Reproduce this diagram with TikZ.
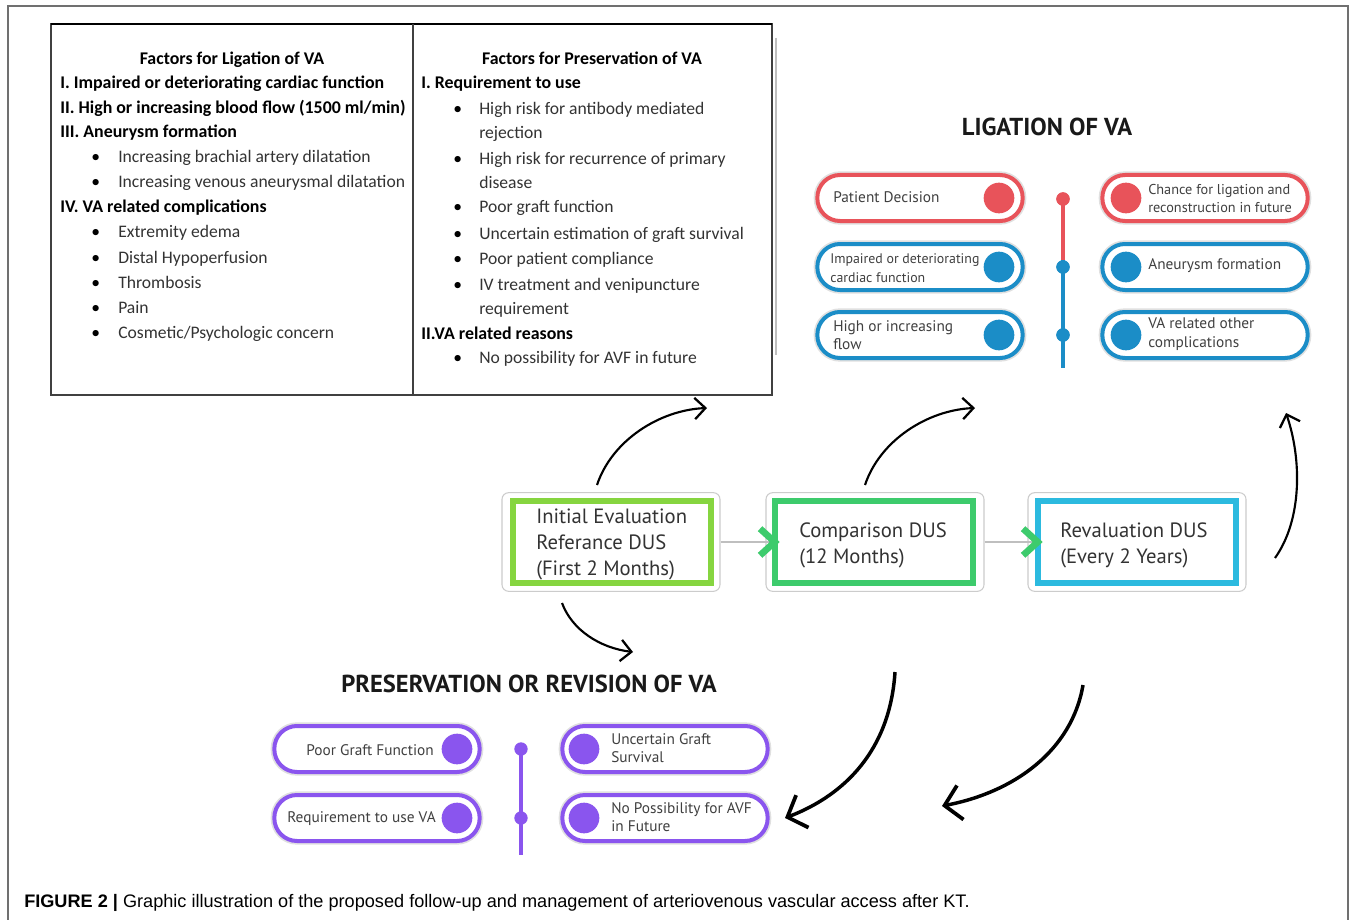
\documentclass[tikz,border=0pt]{standalone}
\usepackage{fontspec}
\setmainfont{Carlito}
\newfontfamily\pillfont{PT Sans}
\newfontfamily\capfont{Liberation Sans}
\usetikzlibrary{arrows.meta}

\definecolor{ligred}{HTML}{E8535A}
\definecolor{ligblue}{HTML}{1B8DC7}
\definecolor{prepurple}{HTML}{8A55EE}
\definecolor{boxlime}{HTML}{86D540}
\definecolor{boxgreen}{HTML}{3DCB6C}
\definecolor{boxcyan}{HTML}{2CBADF}
\definecolor{framegray}{HTML}{707070}

\tikzset{
  tabhead/.style={font=\bfseries\fontsize{13.4}{15}\selectfont, anchor=base, inner sep=0pt},
  tabbold/.style={font=\bfseries\fontsize{13.4}{15}\selectfont, anchor=base west, inner sep=0pt},
  tabitem/.style={font=\fontsize{13.2}{15}\selectfont, anchor=base west, inner sep=0pt, text=black!80},
  pill/.style={draw=#1, line width=3pt, rounded corners=17pt, minimum width=154pt, minimum height=34.5pt, fill=white,
    preaction={draw=black!12, line width=5.5pt}},
  dot/.style={circle, fill=#1, minimum size=23pt, inner sep=0pt},
  knob/.style={circle, fill=#1, minimum size=10pt, inner sep=0pt},
  pilltext/.style={font=\pillfont\fontsize{11.5}{14}\selectfont, text=black!75, align=left, inner sep=0pt},
  smalltext/.style={font=\pillfont\fontsize{10.7}{13.5}\selectfont, text=black!75, align=left, inner sep=0pt},
  heading/.style={font=\pillfont\bfseries\fontsize{18.4}{20}\selectfont, text=black!90, inner sep=0pt},
  flowframe/.style={draw=black!20, line width=0.8pt, rounded corners=5pt, minimum width=163.5pt, minimum height=74pt},
  flowbox/.style={draw=#1, line width=4.5pt, fill=white, minimum width=149pt, minimum height=62pt},
  flowtext/.style={font=\pillfont\fontsize{15.5}{19.5}\selectfont, text=black!80, align=left, anchor=west, inner sep=0pt},
  flowline/.style={draw=black!25, line width=0.8pt, -{Straight Barb[color=boxgreen, length=11pt, width=20pt, line width=5pt]}},
  curvy/.style={line width=1.6pt, -{Straight Barb[length=8pt, width=16pt, line width=1.7pt]}},
  bigcurvy/.style={line width=2.6pt, -{Straight Barb[length=12pt, width=26pt, line width=2.8pt]}}
}

\begin{document}
\begin{tikzpicture}[x=0.75pt, y=-0.75pt]
  \useasboundingbox (0,0) rectangle (1356,920);
  \fill[white] (0,0) rectangle (1356,920);
  % outer frame
  \draw[framegray, line width=1.1pt] (8,920) -- (8,6) -- (1348,6) -- (1348,920);

  % table
  \draw[black!75, line width=1pt] (51,24) rectangle (772,395);
  \draw[line width=2.2pt] (51,24) -- (772,24);
  \draw[black!75, line width=1pt] (413,24) -- (413,395);
  \draw[black!25, line width=1pt] (776,38) -- (776,355);

  \node[tabhead] (lhead) at (232,65) {Factors for Ligation of VA};
  \foreach \y/\t in {89/{I. Impaired or deteriorating cardiac function},
                     114/{II. High or increasing blood flow (1500 ml/min)},
                     138/{III. Aneurysm formation},
                     213/{IV. VA related complications}}
    \node[tabbold] (lt\y) at (60,\y) {\t};
  \foreach \y/\t in {163/{Increasing brachial artery dilatation},
                     188/{Increasing venous aneurysmal dilatation},
                     238/{Extremity edema},
                     263/{Distal Hypoperfusion},
                     288/{Thrombosis},
                     313/{Pain},
                     338/{Cosmetic/Psychologic concern}}
  {
    \node[tabitem, text=black] (lbul\y) at (91,\y) {\textbullet};
    \node[tabitem] (li\y) at (118,\y) {\t};
  }

  \node[tabhead] (rhead) at (592,65) {Factors for Preservation of VA};
  \node[tabbold] (rt89) at (421,89) {I. Requirement to use};
  \node[tabbold] (rt339) at (421,339) {II.VA related reasons};
  \foreach \y in {115,165,213,239,264,290,363}
    \node[tabitem, text=black] (rbul\y) at (453,\y) {\textbullet};
  \foreach \y/\t in {115/{High risk for antibody mediated},
                     139/{rejection},
                     165/{High risk for recurrence of primary},
                     189/{disease},
                     213/{Poor graft function},
                     239/{Uncertain estimation of graft survival},
                     264/{Poor patient compliance},
                     290/{IV treatment and venipuncture},
                     314/{requirement},
                     363/{No possibility for AVF in future}}
    \node[tabitem] (ri\y) at (479,\y) {\t};

  % ligation of VA
  \node[heading] (lighead) at (1047,127) {LIGATION OF VA};
  \node[knob=ligred] (k1) at (1063,199) {};
  \node[knob=ligblue] (k2) at (1063,267) {};
  \node[knob=ligblue] (k3) at (1063,335) {};
  \coordinate (kend) at (1063,368);
  \draw[ligred, line width=3pt] (k1.center) -- (k2.north);
  \draw[ligblue, line width=3pt] (k2.north) -- (kend);
  \node[knob=ligred] at (k1) {};
  \node[knob=ligblue] at (k2) {};
  \node[knob=ligblue] at (k3) {};

  \node[pill=ligred] (lp1) at (920,198) {};
  \node[pill=ligblue] (lp2) at (920,267) {};
  \node[pill=ligblue] (lp3) at (920,335) {};
  \node[pill=ligred] (rp1) at (1205,198) {};
  \node[pill=ligblue] (rp2) at (1205,267) {};
  \node[pill=ligblue] (rp3) at (1205,335) {};
  \node[dot=ligred] (ld1) at (999,198) {};
  \node[dot=ligblue] (ld2) at (999,267) {};
  \node[dot=ligblue] (ld3) at (999,335) {};
  \node[dot=ligred] (rd1) at (1126,198) {};
  \node[dot=ligblue] (rd2) at (1126,267) {};
  \node[dot=ligblue] (rd3) at (1126,335) {};

  \node[pilltext, anchor=west] (lx1) at (833,197) {Patient Decision};
  \node[smalltext, anchor=west, font=\pillfont\fontsize{10.4}{14}\selectfont] (lx2) at (830,268) {Impaired or deteriorating\\cardiac function};
  \node[pilltext, anchor=west] (lx3) at (833,335) {High or increasing\\flow};
  \node[smalltext, anchor=west] (rx1) at (1148,199) {Chance for ligation and\\reconstruction in future};
  \node[pilltext, anchor=west] (rx2) at (1148,266) {Aneurysm formation};
  \node[pilltext, anchor=west] (rx3) at (1148,334) {VA related other\\complications};

  % flow of follow-up
  \node[flowframe] (b1f) at (611,542) {};
  \node[flowframe] (b2f) at (875,542) {};
  \node[flowframe] (b3f) at (1137,542) {};
  \node[flowbox=boxlime] (b1) at (612,542) {};
  \node[flowbox=boxgreen] (b2) at (874,542) {};
  \node[flowbox=boxcyan] (b3) at (1137,542) {};
  \node[flowtext] (b1t) at (536,544) {Initial Evaluation\\Referance DUS\\(First 2 Months)};
  \node[flowtext] (b2t) at (799,545) {Comparison DUS\\(12 Months)};
  \node[flowtext] (b3t) at (1060,545) {Revaluation DUS\\(Every 2 Years)};
  \draw[flowline] (b1f.east) -- ([xshift=6pt]b2.west);
  \draw[flowline] (b2f.east) -- ([xshift=6pt]b3.west);

  % preservation or revision of VA
  \node[heading] (prehead) at (529,684) {PRESERVATION OR REVISION OF VA};
  \node[knob=prepurple] (p1) at (521,749) {};
  \node[knob=prepurple] (p2) at (521,818) {};
  \coordinate (pend) at (521,855);
  \draw[prepurple, line width=3pt] (p1.center) -- (pend);
  \node[pill=prepurple] (pp1) at (377,749) {};
  \node[pill=prepurple] (pp2) at (377,818) {};
  \node[pill=prepurple] (pq1) at (665,749) {};
  \node[pill=prepurple] (pq2) at (665,818) {};
  \node[dot=prepurple] (pd1) at (457,749) {};
  \node[dot=prepurple] (pd2) at (457,818) {};
  \node[dot=prepurple] (qd1) at (584,749) {};
  \node[dot=prepurple] (qd2) at (584,818) {};
  \node[pilltext, anchor=east] (px1) at (434,750) {Poor Graft Function};
  \node[pilltext, anchor=east] (px2) at (436,819) {Requirement to use VA};
  \node[pilltext, anchor=west] (qx1) at (611,748) {Uncertain Graft\\Survival};
  \node[pilltext, anchor=west] (qx2) at (611,817) {No Possibility for AVF\\in Future};

  % curved arrows
  \coordinate (a1s) at (597,485);  \coordinate (a1e) at (707,408);
  \coordinate (a2s) at (865,485);  \coordinate (a2e) at (975,408);
  \coordinate (a3s) at (1275,558); \coordinate (a3e) at (1286,413);
  \coordinate (a4s) at (562,603);  \coordinate (a4e) at (633,652);
  \coordinate (a5s) at (895,672);  \coordinate (a5e) at (785,818);
  \coordinate (a6s) at (1083,685); \coordinate (a6e) at (942,806);
  \draw[curvy] (a1s) .. controls (612,440) and (660,410) .. (a1e);
  \draw[curvy] (a2s) .. controls (880,440) and (928,410) .. (a2e);
  \draw[curvy] (a3s) .. controls (1302,520) and (1302,460) .. (a3e);
  \draw[curvy] (a4s) .. controls (572,630) and (600,648) .. (a4e);
  \draw[bigcurvy] (a5s) .. controls (890,750) and (845,795) .. (a5e);
  \draw[bigcurvy] (a6s) .. controls (1072,750) and (1015,792) .. (a6e);

  % caption
  \node[anchor=base west, inner sep=0pt, font=\capfont\fontsize{13.6}{15}\selectfont] (cap) at (24,907)
    {\textbf{FIGURE 2 |} Graphic illustration of the proposed follow-up and management of arteriovenous vascular access after KT.};
\end{tikzpicture}
\end{document}
